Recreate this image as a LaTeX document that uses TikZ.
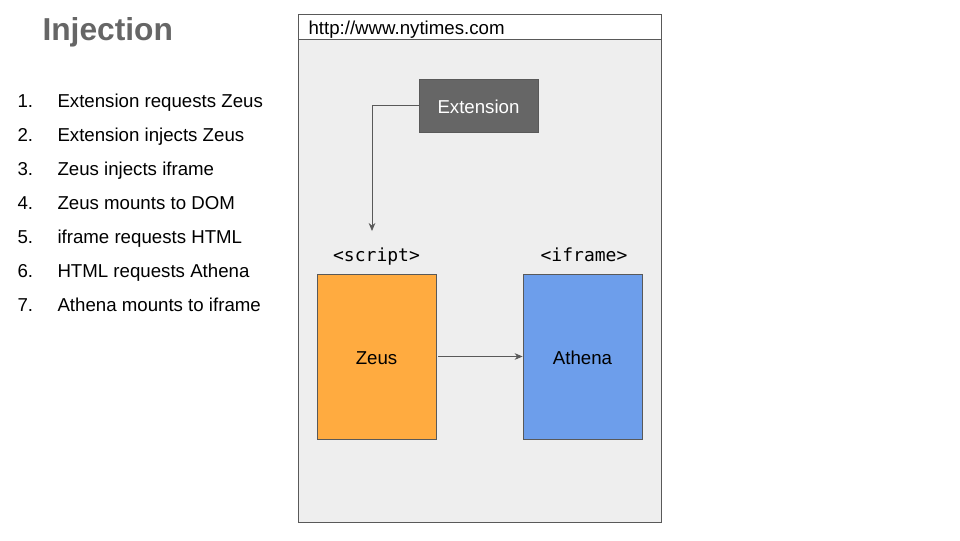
\documentclass[tikz,border=0pt]{standalone}
\usepackage{fontspec}
\setmainfont{Liberation Sans}
\newfontfamily\codefont{DejaVu Sans Mono}
\usetikzlibrary{arrows.meta}
\definecolor{titlegray}{RGB}{102, 102, 102}
\definecolor{linegray}{RGB}{89, 89, 89}
\definecolor{pagegray}{RGB}{238, 238, 238}
\definecolor{extgray}{RGB}{102, 102, 102}
\definecolor{zeusorange}{RGB}{255, 171, 64}
\definecolor{athenablue}{RGB}{109, 158, 235}
\tikzset{every picture/.style={line width=0.75pt}}
\tikzset{
  listnum/.style={anchor=base west, inner sep=0pt, font=\fontsize{14pt}{16pt}\selectfont},
  listtext/.style={anchor=base west, inner sep=0pt, font=\fontsize{14pt}{16pt}\selectfont},
  tagtext/.style={anchor=base, inner sep=0pt, font=\codefont\fontsize{13.5pt}{16pt}\selectfont},
  bigbox/.style={draw=linegray, line width=0.6pt, minimum width=89.25pt, minimum height=123.75pt, text height=12.5pt, text depth=0pt, font=\fontsize{14pt}{16pt}\selectfont},
  flow/.style={draw=linegray, line width=0.6pt, -{Stealth[length=6pt, width=5pt]}}
}

\begin{document}
\begin{tikzpicture}[x=0.75pt,y=0.75pt,yscale=-1,xscale=1]
\useasboundingbox (0,0) rectangle (960,540);

% Title
\draw (42, 40.5) node [anchor=base west][inner sep=0pt][text=titlegray, font=\fontsize{23.8pt}{28pt}\selectfont\bfseries] (title) {Injection};

% Steps
\draw (17, 107) node [listnum] (n1) {1.};
\draw (57, 107) node [listtext] (s1) {Extension requests Zeus};
\draw (17, 141) node [listnum] (n2) {2.};
\draw (57, 141) node [listtext] (s2) {Extension injects Zeus};
\draw (17, 175) node [listnum] (n3) {3.};
\draw (57, 175) node [listtext] (s3) {Zeus injects iframe};
\draw (17, 209) node [listnum] (n4) {4.};
\draw (57, 209) node [listtext] (s4) {Zeus mounts to DOM};
\draw (17, 243) node [listnum] (n5) {5.};
\draw (57, 243) node [listtext] (s5) {iframe requests HTML};
\draw (17, 277) node [listnum] (n6) {6.};
\draw (57, 277) node [listtext] (s6) {HTML requests Athena};
\draw (17, 311) node [listnum] (n7) {7.};
\draw (57, 311) node [listtext] (s7) {Athena mounts to iframe};

%Shape: Rectangle (page body)
\draw [draw=linegray, line width=0.6pt, fill=pagegray] (298.5,39.5) -- (661.5,39.5) -- (661.5,522.5) -- (298.5,522.5) -- cycle ;
%Shape: Rectangle (address bar)
\draw [draw=linegray, line width=0.6pt, fill=white] (298.5,14.5) -- (661.5,14.5) -- (661.5,39.5) -- (298.5,39.5) -- cycle ;
% Text Node
\draw (308, 34) node [anchor=base west][inner sep=0pt][font=\fontsize{14pt}{16pt}\selectfont] (url) {http://www.nytimes.com};

%Shape: Extension
\draw (478.5, 105.5) node [draw=linegray, line width=0.6pt, fill=extgray, text=white, minimum width=89.25pt, minimum height=39.75pt, text height=11.5pt, text depth=0pt, font=\fontsize{14pt}{16pt}\selectfont] (ext) {Extension};

% Tags
\draw (376.5, 261) node [tagtext] (scripttag) {<script>};
\draw (584, 261) node [tagtext] (iframetag) {<iframe>};

%Shape: Zeus / Athena
\draw (376.5, 356.5) node [bigbox, fill=zeusorange] (zeus) {Zeus};
\draw (582.5, 356.5) node [bigbox, fill=athenablue] (athena) {Athena};

% Connectors
\coordinate (inject) at (372, 231);
\draw [flow] (ext.west) -| (inject);
\draw [flow] ([xshift=1.5pt]zeus.east) -- (athena.west);

\end{tikzpicture}
\end{document}
